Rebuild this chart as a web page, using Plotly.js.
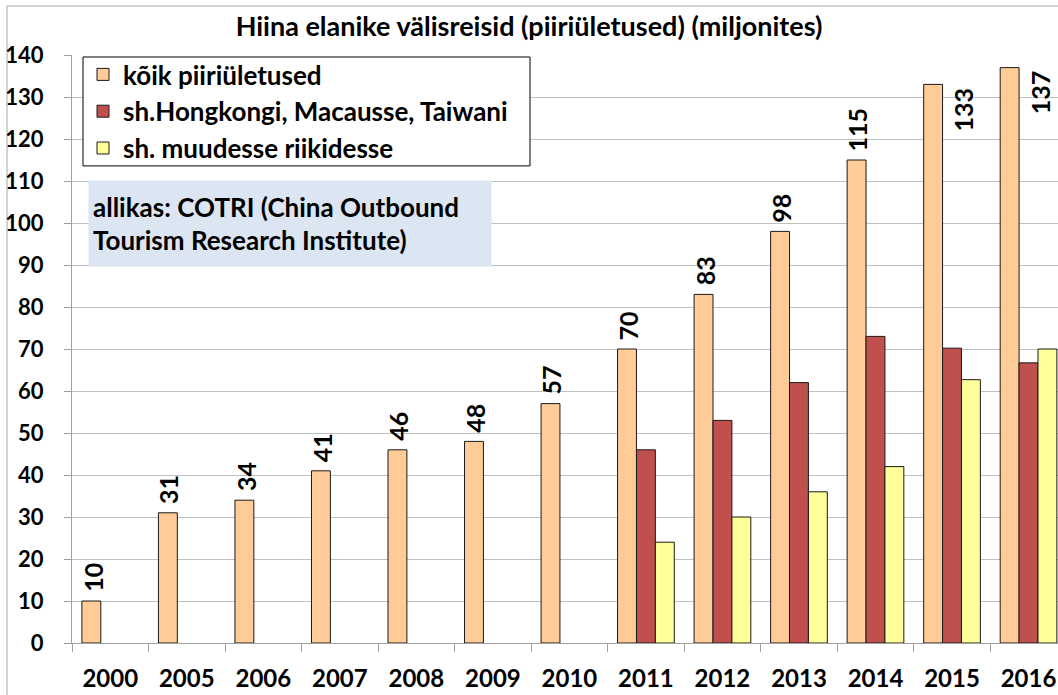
<!DOCTYPE html>
<html><head><meta charset="utf-8">
<script src="https://cdn.plot.ly/plotly-3.0.1.min.js"></script>
<style>html,body{margin:0;padding:0;overflow:hidden;background:#fff}</style>
</head><body><div id="chart" style="width:1058px;height:695px"></div>
<script>
const years = ['2000','2005','2006','2007','2008','2009','2010','2011','2012','2013','2014','2015','2016'];
const allCrossings = [10,31,34,41,46,48,57,70,83,98,115,133,137];
const hkMacauTaiwan = [null,null,null,null,null,null,null,46,53,62,73,70.2,66.7];
const otherCountries = [null,null,null,null,null,null,null,24,30,36,42,62.7,70];
const seriesNames = ['kõik piiriületused','sh.Hongkongi, Macausse, Taiwani','sh. muudesse riikidesse'];
const yTicks = [0,10,20,30,40,50,60,70,80,90,100,110,120,130,140];
const titleText = 'Hiina elanike välisreisid (piiriületused) (miljonites)';
const sourceText = 'allikas: COTRI (China Outbound<br>Tourism Research Institute)';

const FONT = 'Lato, "Open Sans", "DejaVu Sans", sans-serif';
const colors = ['#FFCB97','#C0504D','#FFFF99'];
const seriesData = [allCrossings, hkMacauTaiwan, otherCountries];

// plot area geometry (pixels)
const PL = 72, PT = 55, PW = 986, PH = 588.5;
const px = x => (x - PL) / PW;
const py = y => 1 - (y - PT) / PH;

const traces = seriesData.map((vals, k) => ({
  type: 'bar', x: years, y: vals, name: seriesNames[k],
  marker: {color: colors[k], line: {color: '#1a1a1a', width: 1}},
  hoverinfo: 'x+y+name'
}));

const annotations = allCrossings.map((v, i) => {
  const beside = v > 125;
  return {
    x: i, y: v, xref: 'x', yref: 'y', text: String(v), textangle: -90,
    showarrow: false, xanchor: 'center', yanchor: beside ? 'top' : 'bottom',
    xshift: beside ? 11 : -18, yshift: beside ? -1 : 7,
    font: {family: FONT, size: 25, color: '#000', weight: 'bold'}
  };
});
annotations.push({
  text: sourceText, xref: 'paper', yref: 'paper', x: px(88), y: py(180),
  xanchor: 'left', yanchor: 'top', showarrow: false, align: 'left',
  bgcolor: '#DCE6F2', borderpad: 4, width: 394, height: 77,
  font: {family: FONT, size: 26, color: '#000', weight: 'bold'}
});

const layout = {
  width: 1058, height: 695,
  margin: {l: PL, r: 0, t: PT, b: 695 - PT - PH},
  paper_bgcolor: '#fff', plot_bgcolor: '#fff',
  font: {family: FONT, color: '#000'},
  title: {text: titleText, x: 0.5, xref: 'container', y: 1 - 27/695, yref: 'container',
          xanchor: 'center', yanchor: 'middle',
          font: {family: FONT, size: 27, color: '#000', weight: 'bold'}},
  barmode: 'group', bargap: 0.259, bargroupgap: 0,
  xaxis: {type: 'category', range: [-0.5, 12.385], tickson: 'boundaries', ticks: 'outside',
          ticklen: 8, tickcolor: '#a0a0a0', tickwidth: 1, showline: true, linecolor: '#a0a0a0',
          linewidth: 1, showgrid: false, ticklabelstandoff: 14,
          tickfont: {family: FONT, size: 24, color: '#000', weight: 'bold'}, fixedrange: true},
  yaxis: {range: [0, 140], tickvals: yTicks, ticks: 'outside', ticklen: 7, tickcolor: '#a0a0a0',
          showline: true, linecolor: '#a0a0a0', linewidth: 1, showgrid: true, gridcolor: '#c0c0c0',
          gridwidth: 1, zeroline: false, ticklabelstandoff: 16,
          tickfont: {family: FONT, size: 22, color: '#000', weight: 'bold'}, fixedrange: true},
  legend: {x: px(83), y: py(51), xanchor: 'left', yanchor: 'top', bgcolor: 'rgba(0,0,0,0)',
           borderwidth: 0, traceorder: 'normal',
           font: {family: FONT, size: 26, color: '#000', weight: 'bold'}},
  showlegend: true,
  annotations: annotations,
  shapes: [
    {type: 'rect', xref: 'paper', yref: 'paper', x0: px(7), x1: 1.05,
     y0: -0.2, y1: py(6), line: {color: '#a6a6a6', width: 1}, layer: 'below'},
    {type: 'rect', xref: 'paper', yref: 'paper', x0: px(83), x1: px(530),
     y0: py(166), y1: py(57), fillcolor: '#fff', line: {color: '#000', width: 1}, layer: 'above'}
  ]
};

Plotly.newPlot('chart', traces, layout, {displayModeBar: false, staticPlot: true});
</script></body></html>
